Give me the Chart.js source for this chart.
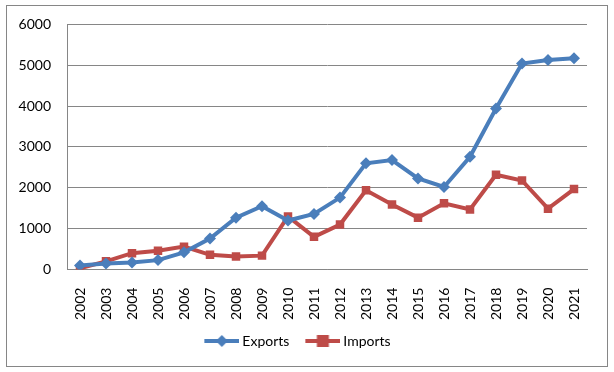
<!DOCTYPE html>
<html>
<head>
<meta charset="utf-8">
<script src="https://cdn.jsdelivr.net/npm/chart.js@4"></script>
<style>
    html, body { margin:0; padding:0; background:#fff; }
    #wrap { position:relative; width:614px; height:372px; }
    #frame { position:absolute; left:6px; top:5px; width:600px; height:360px; border:1px solid #868686; pointer-events:none; }
</style>
</head>
<body>
<div id="wrap">
    <canvas id="tradeChart" width="614" height="372"></canvas>
    <div id="frame"></div>
</div>
<script>
const years = ['2002','2003','2004','2005','2006','2007','2008','2009','2010','2011','2012','2013','2014','2015','2016','2017','2018','2019','2020','2021'];
const exportsData = [100, 150, 170, 230, 420, 760, 1270, 1550, 1200, 1360, 1760, 2600, 2680, 2230, 2020, 2760, 3940, 5040, 5130, 5170];
const importsData = [30, 200, 400, 460, 560, 360, 320, 340, 1300, 800, 1100, 1940, 1590, 1270, 1620, 1470, 2320, 2180, 1490, 1970];
const yTicks = [0, 1000, 2000, 3000, 4000, 5000, 6000];

const blue = '#4a7ebb';
const red = '#be4b48';

// Excel style legend key: line with marker in the middle (drawn in the right part of the image)
function legendKey(color, shape) {
    const c = document.createElement('canvas');
    c.width = 47; c.height = 14;
    const g = c.getContext('2d');
    const x0 = 12, mid = x0 + 17.5;
    g.strokeStyle = color;
    g.lineWidth = 4;
    g.beginPath(); g.moveTo(x0, 7); g.lineTo(47, 7); g.stroke();
    g.fillStyle = color;
    if (shape === 'diamond') {
        g.beginPath(); g.moveTo(mid, 1); g.lineTo(mid + 6, 7); g.lineTo(mid, 13); g.lineTo(mid - 6, 7); g.closePath(); g.fill();
    } else {
        g.fillRect(mid - 6, 1, 12, 12);
    }
    return c;
}
const keyExports = legendKey(blue, 'diamond');
const keyImports = legendKey(red, 'square');

const ctx = document.getElementById('tradeChart').getContext('2d');
new Chart(ctx, {
    type: 'line',
    data: {
        labels: years,
        datasets: [{
            label: 'Exports',
            data: exportsData,
            borderColor: blue,
            backgroundColor: blue,
            borderWidth: 4,
            pointStyle: 'rectRot',
            pointRadius: 6,
            pointBorderWidth: 0,
            tension: 0
        }, {
            label: 'Imports',
            data: importsData,
            borderColor: red,
            backgroundColor: red,
            borderWidth: 4,
            pointStyle: 'rect',
            pointRadius: 6,
            pointBorderWidth: 0,
            tension: 0
        }]
    },
    options: {
        responsive: false,
        animation: false,
        devicePixelRatio: 1,
        layout: { padding: { left: 0, right: 27, top: 14, bottom: 14 } },
        scales: {
            y: {
                min: 0,
                max: 6000,
                afterBuildTicks: (scale) => { scale.ticks = yTicks.map(v => ({ value: v })); },
                afterFit: (scale) => { scale.width = 67; },
                ticks: { color: '#000', padding: 16, font: { family: 'Lato', size: 14 }, callback: (v) => String(v) },
                grid: { color: '#868686', drawTicks: false },
                border: { display: true, color: '#868686' }
            },
            x: {
                offset: true,
                afterFit: (scale) => { scale.height -= 4; },
                ticks: { color: '#000', maxRotation: 90, minRotation: 90, padding: 10, font: { family: 'Lato', size: 14 } },
                grid: { display: false, offset: true },
                border: { display: true, color: '#868686' }
            }
        },
        plugins: {
            legend: {
                position: 'bottom',
                labels: {
                    usePointStyle: true,
                    pointStyleWidth: 39,
                    boxHeight: 14,
                    color: '#000',
                    font: { family: 'Lato', size: 14 },
                    padding: 8,
                    generateLabels: () => [
                        { text: 'Exports', pointStyle: keyExports, fillStyle: blue, strokeStyle: blue, lineWidth: 0, datasetIndex: 0 },
                        { text: 'Imports', pointStyle: keyImports, fillStyle: red, strokeStyle: red, lineWidth: 0, datasetIndex: 1 }
                    ]
                }
            },
            tooltip: { enabled: false }
        }
    }
});
</script>
</body>
</html>
